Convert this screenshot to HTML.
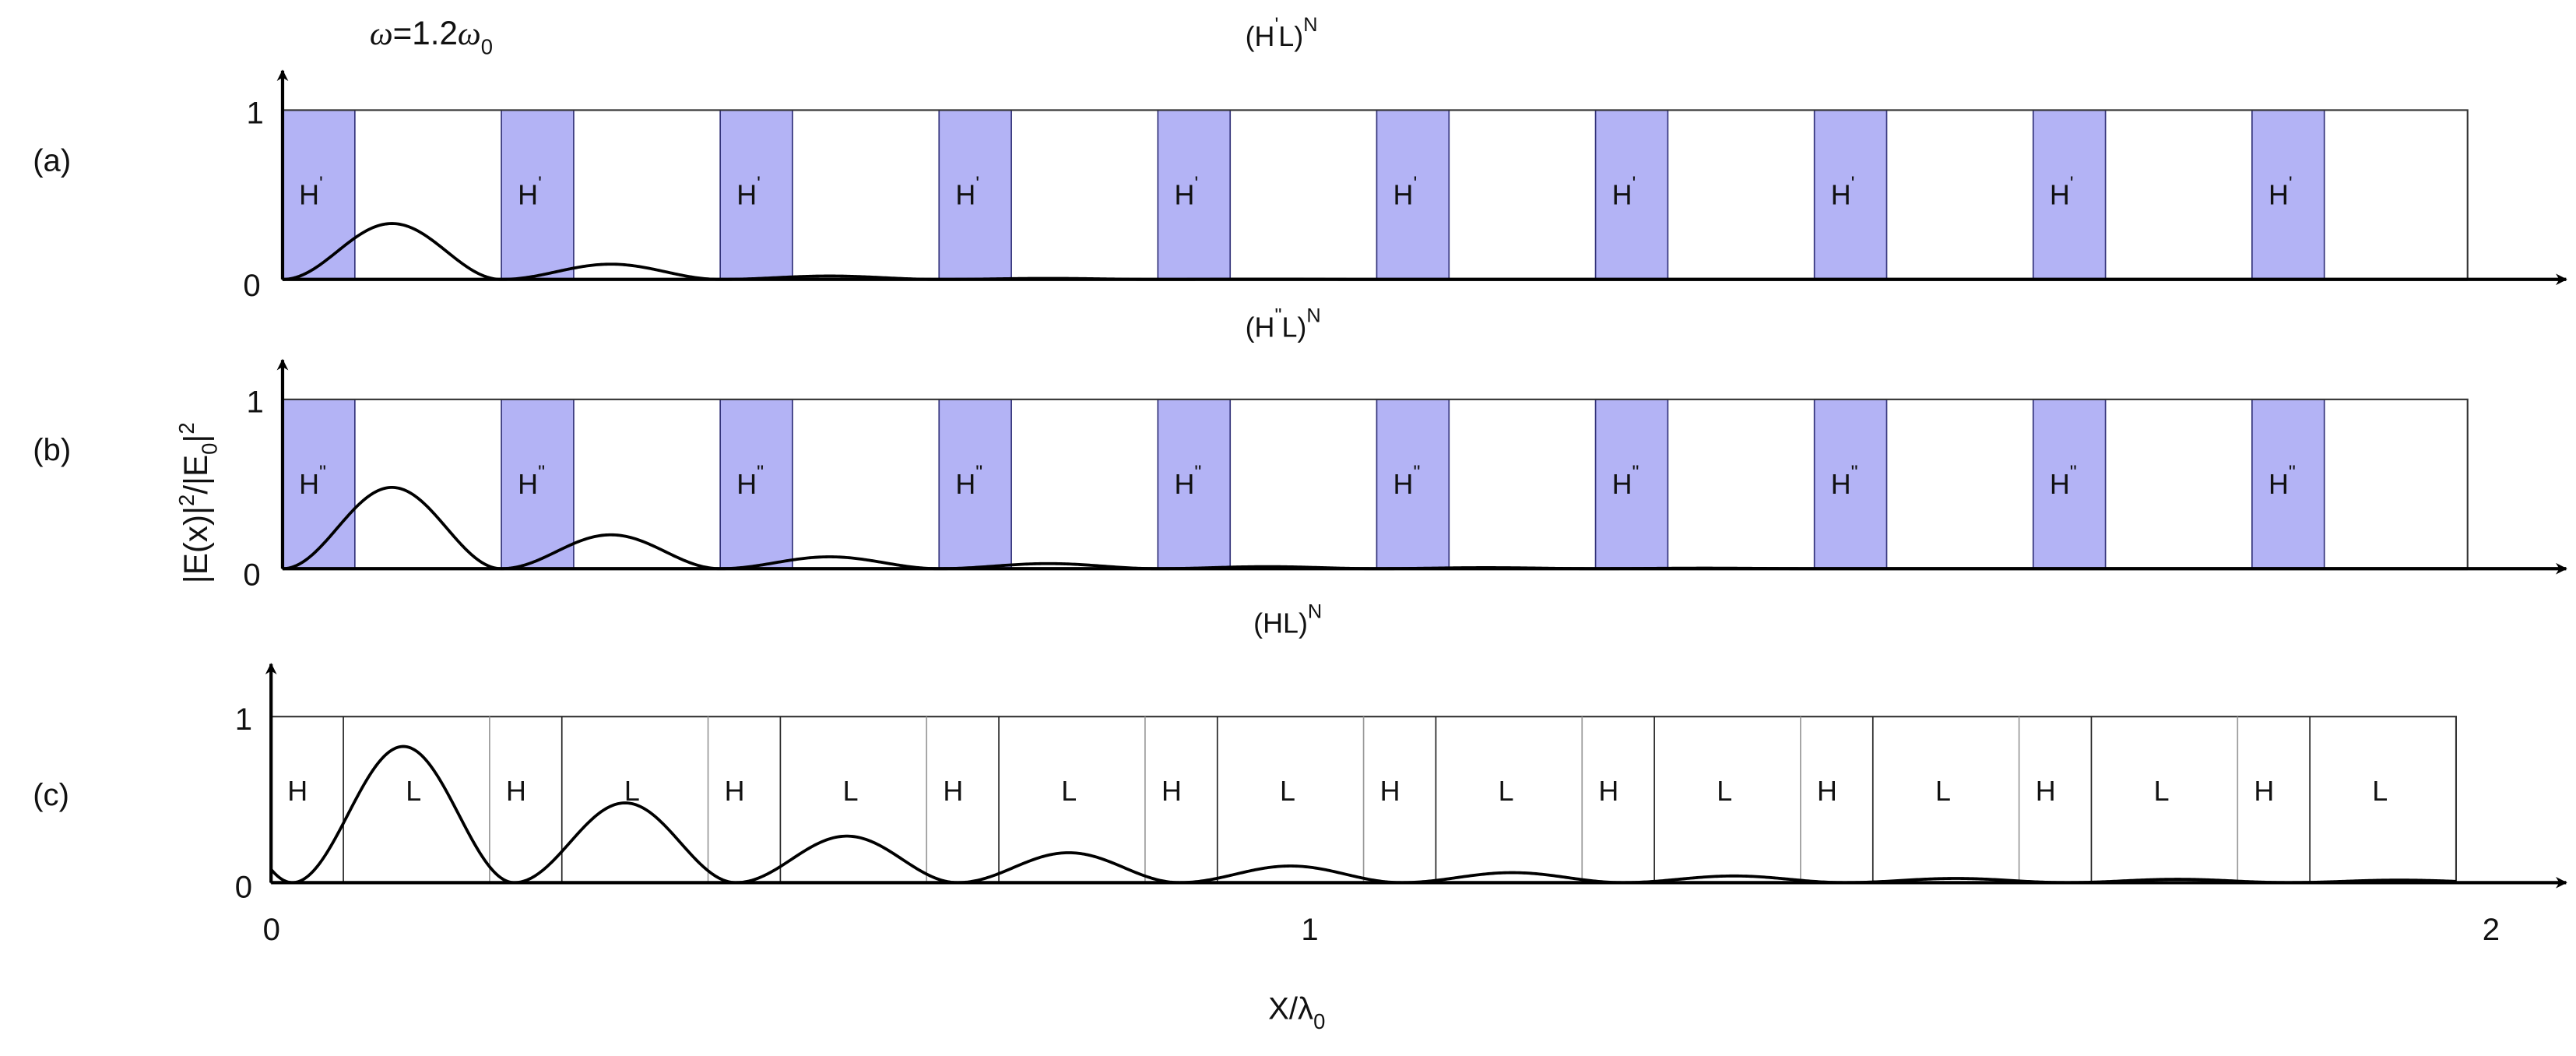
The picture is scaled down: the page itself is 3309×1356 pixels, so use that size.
<!DOCTYPE html>
<html><head><meta charset="utf-8"><style>
html,body{margin:0;padding:0;background:#fff;}
svg{display:block;}
text{font-family:"Liberation Sans",sans-serif;fill:#111;}
</style></head><body>
<svg id="s" width="3309" height="1356" viewBox="0 0 1568 642.5" preserveAspectRatio="none" xmlns="http://www.w3.org/2000/svg">
<defs>
<marker id="ar" viewBox="0 0 10 10" refX="9" refY="5" markerWidth="7" markerHeight="7" orient="auto" markerUnits="userSpaceOnUse">
<path d="M0,0 L10,5 L0,10 L3,5 z" fill="#000"/></marker>
</defs>
<g id="g"></g>
<text x="20" y="104" font-size="19">(a)</text>
<text x="20" y="280" font-size="19">(b)</text>
<text x="20" y="490" font-size="19">(c)</text>
<text x="225" y="27" font-size="20"><tspan font-style="italic" font-family="Liberation Serif">ω</tspan>=1.2<tspan font-style="italic" font-family="Liberation Serif">ω</tspan><tspan font-size="13" dy="6">0</tspan></text>
<text x="758" y="28" font-size="17">(H<tspan font-size="12" dy="-9">'</tspan><tspan dy="9">L)</tspan><tspan font-size="12" dy="-9">N</tspan></text>
<text x="758" y="205" font-size="17">(H<tspan font-size="12" dy="-9">"</tspan><tspan dy="9">L)</tspan><tspan font-size="12" dy="-9">N</tspan></text>
<text x="763" y="385" font-size="17">(HL)<tspan font-size="12" dy="-9">N</tspan></text>
<text x="150" y="75" font-size="19">1</text>
<text x="148" y="180" font-size="19">0</text>
<text x="150" y="251" font-size="19">1</text>
<text x="148" y="356" font-size="19">0</text>
<text x="143" y="444" font-size="19">1</text>
<text x="143" y="546" font-size="19">0</text>
<text x="160" y="572" font-size="19">0</text>
<text x="792" y="572" font-size="19">1</text>
<text x="1511" y="572" font-size="19">2</text>
<text x="772" y="620" font-size="19">X/λ<tspan font-size="13" dy="6">0</tspan></text>
<text transform="translate(126,355) rotate(-90)" font-size="20">|E(x)|<tspan font-size="13" dy="-8">2</tspan><tspan dy="8">/|E</tspan><tspan font-size="13" dy="6">0</tspan><tspan dy="-6">|</tspan><tspan font-size="13" dy="-8">2</tspan></text>
</svg>
<script>
(function(){
var g=document.getElementById('g'),h='';
function panel(T,B,ax,right,prime,amps){
  for(var k=0;k<10;k++){var s=172+133.2*k;
    h+='<rect x="'+s+'" y="'+T+'" width="44" height="'+(B-T)+'" fill="#b3b3f5" stroke="#33337a" stroke-width="0.8"/>';
    h+='<text x="'+(s+10)+'" y="'+((T+B)/2+6)+'" font-size="17">H<tspan font-size="12" dy="-9">'+prime+'</tspan></text>';}
  h+='<rect x="'+ax+'" y="'+T+'" width="'+(right-ax)+'" height="'+(B-T)+'" fill="none" stroke="#333" stroke-width="1"/>';
  var d='M172,'+B;
  for(var x=172;x<=right;x+=1){var u=(x-172)/133.2,k=Math.floor(u),A=k<amps.length?amps[k]:0;
    var y=B-A*(B-T)*Math.pow(Math.sin(Math.PI*(u-k)),2);d+=' L'+x+','+y.toFixed(2);}
  h+='<path d="'+d+'" fill="none" stroke="#000" stroke-width="1.8"/>';
  h+='<line x1="'+ax+'" y1="'+B+'" x2="1562" y2="'+B+'" stroke="#000" stroke-width="2" marker-end="url(#ar)"/>';
  h+='<line x1="'+ax+'" y1="'+B+'" x2="'+ax+'" y2="'+(T-24)+'" stroke="#000" stroke-width="2" marker-end="url(#ar)"/>';
}
panel(67,170,172,1502,"'",[0.33,0.09,0.02,0.006,0.002]);
panel(243,346,172,1502,'"',[0.48,0.2,0.07,0.03,0.012,0.006,0.003]);
var T=436,B=537,ax=165,right=1495;
h+='<rect x="'+ax+'" y="'+T+'" width="'+(right-ax)+'" height="'+(B-T)+'" fill="none" stroke="#333" stroke-width="1"/>';
for(var k=0;k<10;k++){var s=165+133*k;
  if(k>0)h+='<line x1="'+s+'" y1="'+T+'" x2="'+s+'" y2="'+B+'" stroke="#999" stroke-width="0.8"/>';
  h+='<line x1="'+(s+44)+'" y1="'+T+'" x2="'+(s+44)+'" y2="'+B+'" stroke="#222" stroke-width="0.8"/>';
  h+='<text x="'+(s+10)+'" y="'+(T+51)+'" font-size="17">H</text>';
  h+='<text x="'+(s+82)+'" y="'+(T+51)+'" font-size="17">L</text>';}
var amps=[0.82,0.48,0.28,0.18,0.1,0.06,0.04,0.025,0.02,0.015,0.01];
var d='';
for(var x=165;x<=right;x+=1){var u=(x-178)/135,k=Math.floor(u),A=k<0?0.9:(k<amps.length?amps[k]:0);
  var y=B-A*(B-T)*Math.pow(Math.sin(Math.PI*(u-k)),2);d+=(d?' L':'M')+x+','+y.toFixed(2);}
h+='<path d="'+d+'" fill="none" stroke="#000" stroke-width="1.8"/>';
h+='<line x1="'+ax+'" y1="'+B+'" x2="1562" y2="'+B+'" stroke="#000" stroke-width="2" marker-end="url(#ar)"/>';
h+='<line x1="'+ax+'" y1="'+B+'" x2="'+ax+'" y2="'+(T-32)+'" stroke="#000" stroke-width="2" marker-end="url(#ar)"/>';
g.innerHTML=h;
})();
</script>
</body></html>
